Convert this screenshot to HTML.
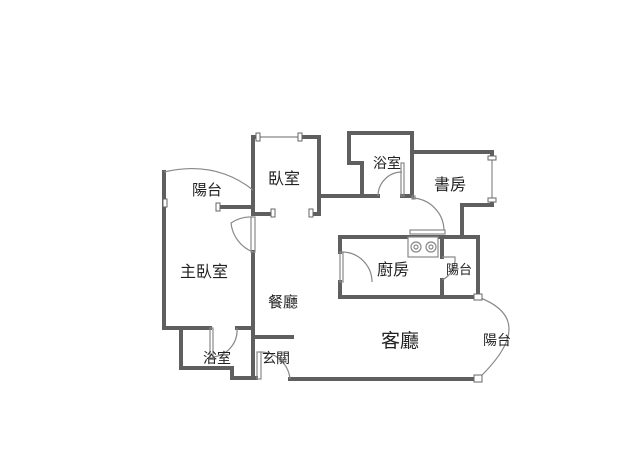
<!DOCTYPE html>
<html><head><meta charset="utf-8"><style>
html,body{margin:0;padding:0;background:#fff;width:638px;height:460px;overflow:hidden}
text{font-family:"Liberation Sans","Noto Sans CJK TC",sans-serif;fill:#222}
</style></head><body>
<svg width="638" height="460" viewBox="0 0 638 460" xmlns="http://www.w3.org/2000/svg">
<g fill="none" stroke="#5f5f5f" stroke-width="4" stroke-linecap="square" stroke-linejoin="miter">
<polyline points="164,172 164,328 210,328"/>
<polyline points="237,328 253,328"/>
<polyline points="218,207 253,207"/>
<polyline points="181,328 181,368 232,368 232,378 256,378"/>
<polyline points="253,252 253,378"/>
<polyline points="253,337 292,337"/>
<polyline points="253,213 253,137 258,137"/>
<polyline points="300,137 319,137 319,214 311,214"/>
<polyline points="253,214 273,214"/>
<polyline points="319,196 362,196"/>
<polyline points="362,196 362,163 349,163 349,133 412,133 412,196 402,196"/>
<polyline points="362,196 378,196"/>
<polyline points="412,152 492,152 492,158"/>
<polyline points="492,200 492,205 462,205 462,237"/>
<polyline points="340,252 340,237 478,237 478,297 340,297 340,282"/>
<polyline points="442,237 442,257"/>
<polyline points="442,280 442,297"/>
<polyline points="290,379 475,379"/>
</g>
<g fill="none" stroke="#888" stroke-width="1.2">
<path d="M164,172 Q215,160 253,190"/>
<line x1="258" y1="137" x2="300" y2="137"/>
<line x1="492" y1="158" x2="492" y2="200"/>
<path d="M478,297 Q540,320 478,379"/>
<rect x="251" y="217" width="4" height="35"/>
<path d="M253,217 A35,35 0 0 0 231,223 A35,35 0 0 0 253,252"/>
<rect x="210" y="328" width="3" height="30"/>
<path d="M213,357 A27,27 0 0 0 237,328"/>
<rect x="257" y="352" width="4" height="27"/>
<path d="M260,352 A30,30 0 0 1 290,379"/>
<rect x="340" y="252" width="3" height="30"/>
<path d="M342,252 A30,30 0 0 1 372,282"/>
<rect x="401" y="163" width="3" height="33"/>
<path d="M378,196 A24,24 0 0 1 402,172"/>
<rect x="412" y="196" width="3" height="3"/>
<path d="M412,198 A33,33 0 0 1 444,230"/>
<rect x="410" y="230" width="35" height="4"/>
<path d="M442,257 L455,257 A23,23 0 0 1 442,280"/>
<rect x="408" y="237" width="30" height="20" fill="#fff"/>
<circle cx="416" cy="247" r="5"/><circle cx="431" cy="247" r="5"/>
<circle cx="416" cy="247" r="2"/><circle cx="431" cy="247" r="2"/>
</g>
<g fill="#fff" stroke="#666" stroke-width="1">
<rect x="163" y="199" width="4" height="8"/>
<rect x="216" y="203" width="4" height="8"/>
<rect x="256" y="133" width="4" height="8"/>
<rect x="298" y="133" width="4" height="8"/>
<rect x="271" y="209" width="4" height="8"/>
<rect x="309" y="209" width="4" height="8"/>
<rect x="488" y="156" width="8" height="4"/>
<rect x="488" y="198" width="8" height="4"/>
<rect x="474" y="294" width="8" height="6"/>
<rect x="474" y="375" width="8" height="7"/>
</g>
<g font-size="14">
<text x="192" y="195" font-size="15">陽台</text>
<text x="268" y="184" font-size="16">臥室</text>
<text x="373" y="168" font-size="14">浴室</text>
<text x="434" y="190" font-size="16">書房</text>
<text x="180" y="277" font-size="16">主臥室</text>
<text x="268" y="307" font-size="15">餐廳</text>
<text x="377" y="275" font-size="16">廚房</text>
<text x="446" y="274" font-size="13">陽台</text>
<text x="381" y="347" font-size="19">客廳</text>
<text x="483" y="345" font-size="14">陽台</text>
<text x="203" y="363" font-size="14">浴室</text>
<text x="262" y="363" font-size="14">玄關</text>
</g>
</svg>
</body></html>
